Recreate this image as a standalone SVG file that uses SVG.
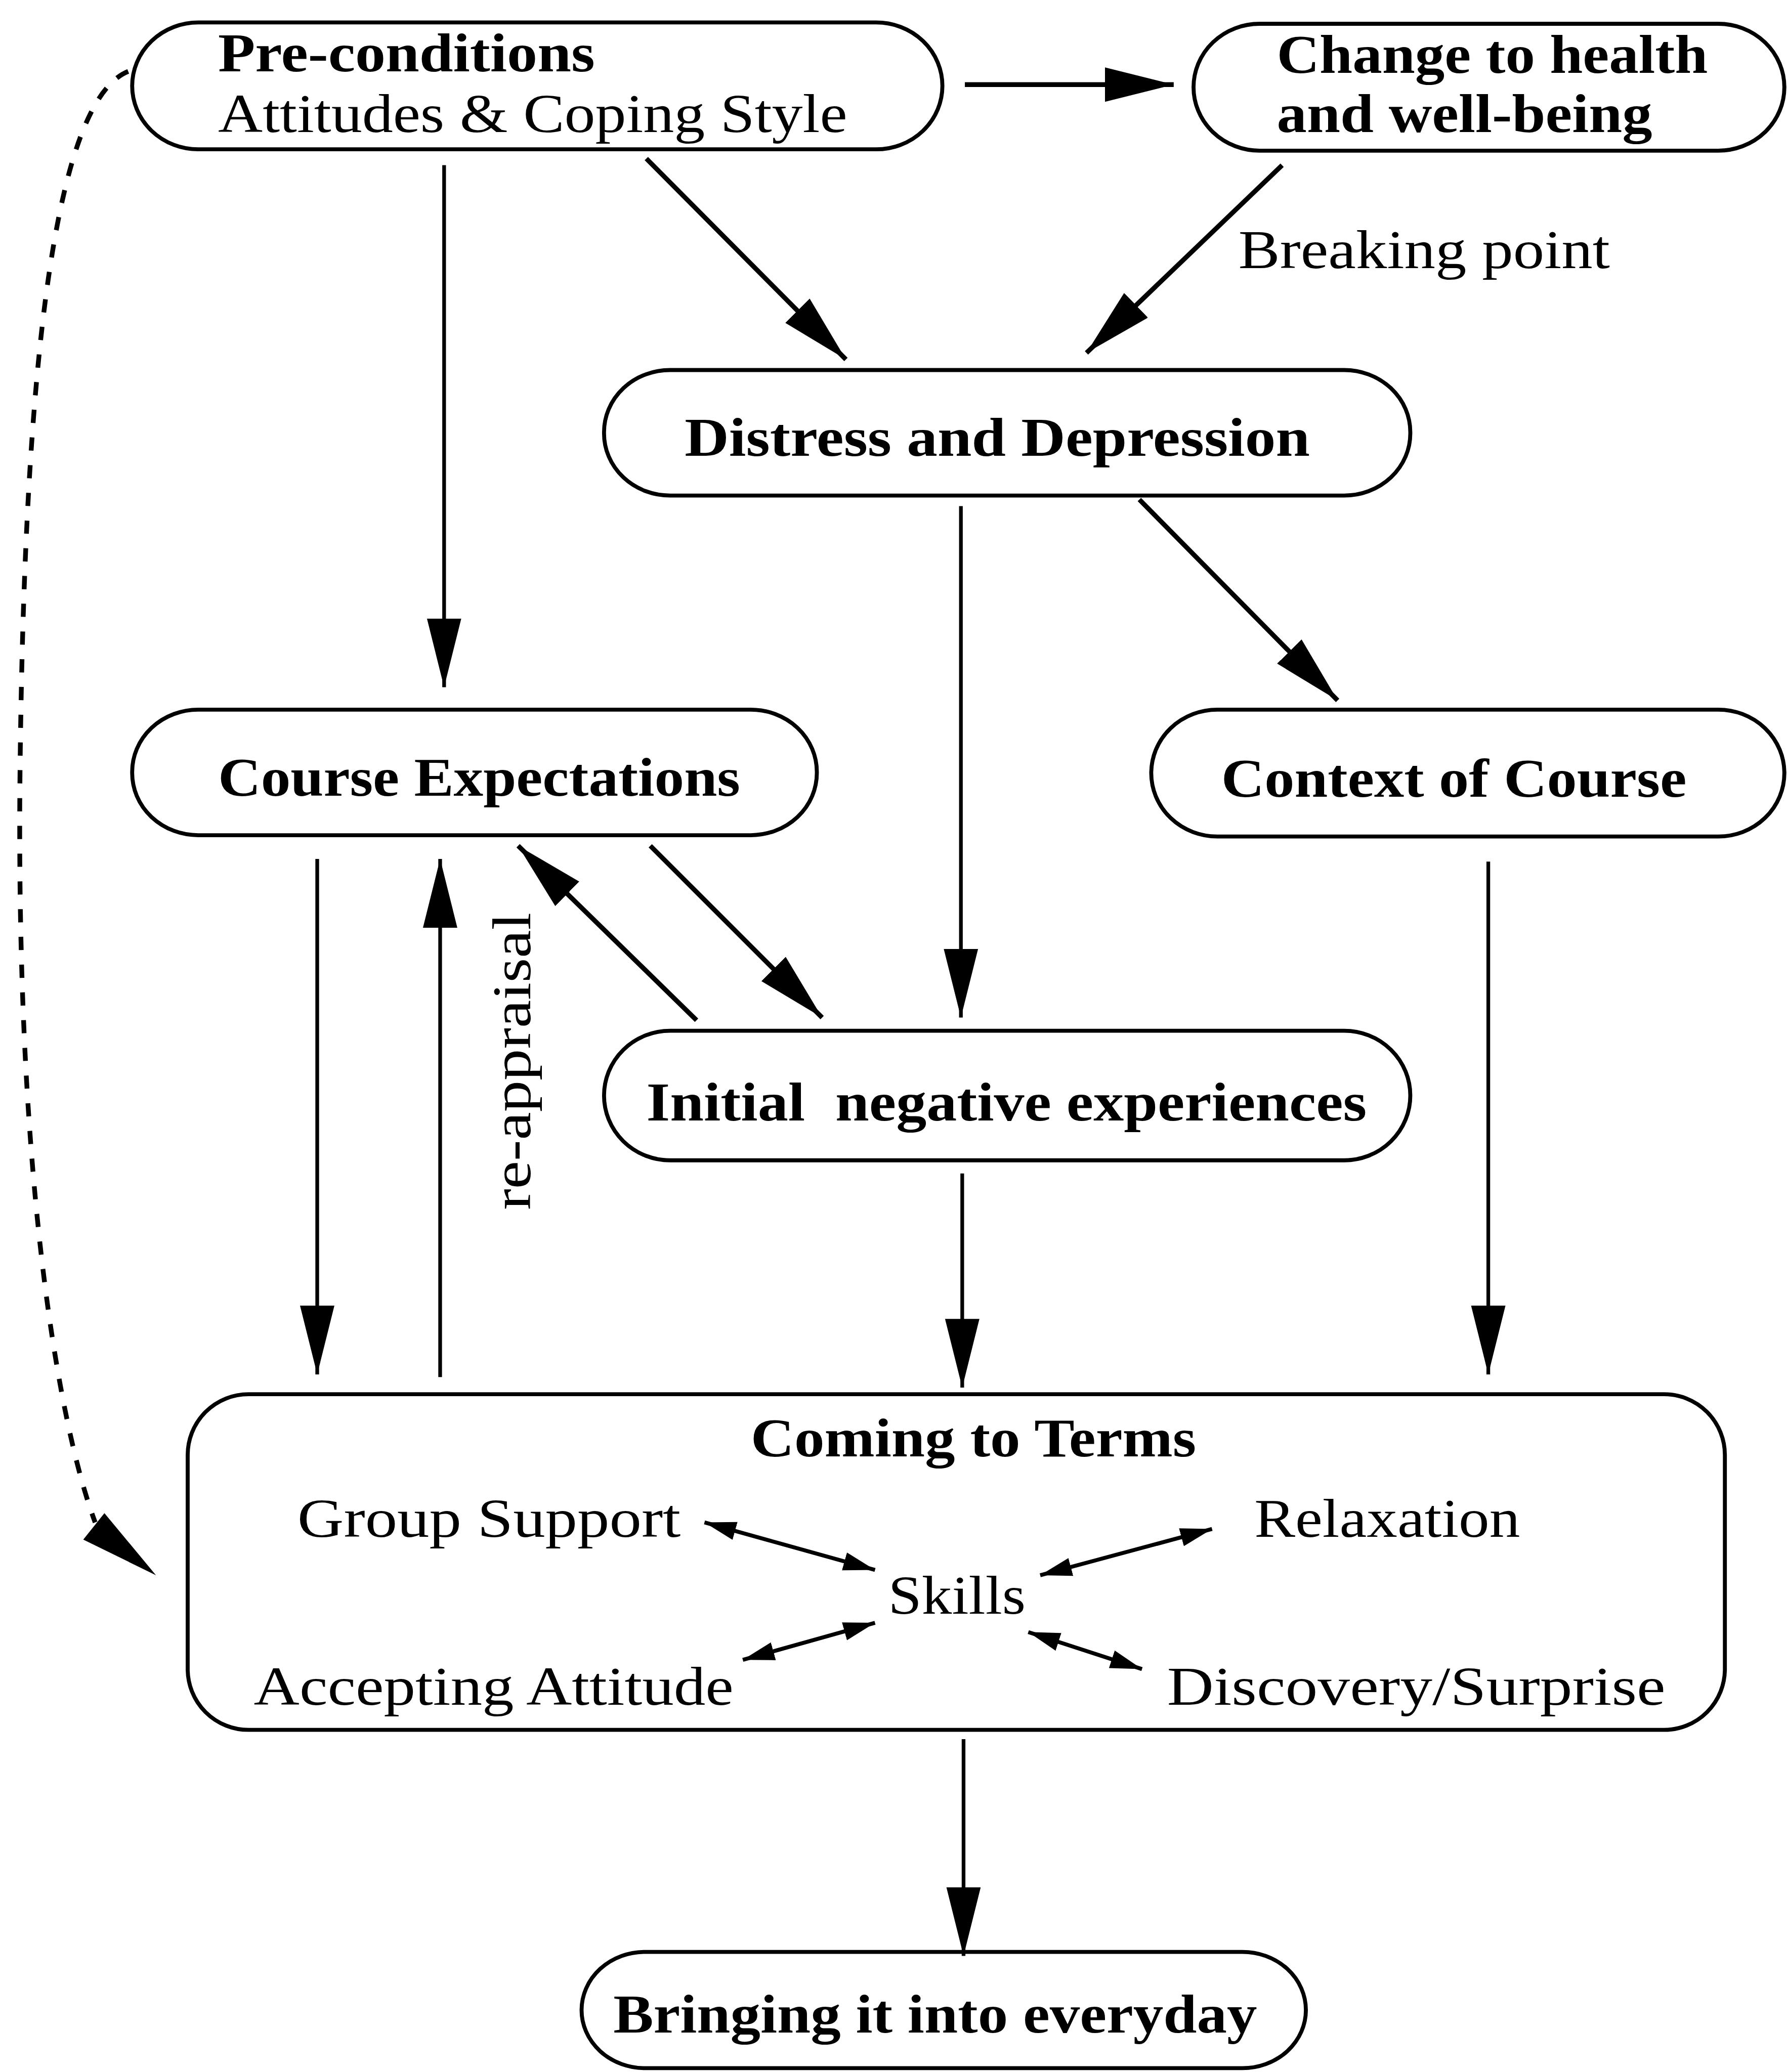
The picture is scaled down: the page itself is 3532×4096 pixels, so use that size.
<svg xmlns="http://www.w3.org/2000/svg" width="3532" height="4096" viewBox="0 0 3532 4096">
<style>
.box{fill:none;stroke:#000;stroke-width:3}
.t{font-family:"Liberation Serif","Times New Roman",serif;font-size:41px;fill:#000}
.b{font-weight:bold}
.c{fill:none;stroke:#000;stroke-width:2.8}
.k{stroke-width:3.6}
.s{fill:none;stroke:#000;stroke-width:3}
.d{fill:none;stroke:#000;stroke-width:3.6;stroke-dasharray:10 11}
</style>
<defs>
<marker id="ah" markerUnits="userSpaceOnUse" markerWidth="56" markerHeight="28" refX="52" refY="13" orient="auto" viewBox="0 0 56 28"><path d="M0,0 L52,13 L0,26 z" fill="#000"/></marker>
<marker id="sh" markerUnits="userSpaceOnUse" markerWidth="26" markerHeight="16" refX="24" refY="7" orient="auto-start-reverse" viewBox="0 0 26 16"><path d="M0,0 L24,7 L0,14 z" fill="#000"/></marker>
</defs>
<rect width="3532" height="4096" fill="#fff"/>
<g transform="scale(2.61243)">
<g id="connectors">
<line class="c k" x1="730" y1="64" x2="888" y2="64" marker-end="url(#ah)"/>
<line class="c k" x1="489" y1="120" x2="640" y2="272" marker-end="url(#ah)"/>
<line class="c k" x1="970" y1="125" x2="822" y2="267" marker-end="url(#ah)"/>
<line class="c" x1="336" y1="125" x2="336" y2="520" marker-end="url(#ah)"/>
<line class="c k" x1="862" y1="378" x2="1012" y2="530" marker-end="url(#ah)"/>
<line class="c" x1="727" y1="383" x2="727" y2="770" marker-end="url(#ah)"/>
<line class="c k" x1="527" y1="772" x2="392" y2="640" marker-end="url(#ah)"/>
<line class="c k" x1="492" y1="640" x2="622" y2="770" marker-end="url(#ah)"/>
<line class="c" x1="240" y1="650" x2="240" y2="1040" marker-end="url(#ah)"/>
<line class="c" x1="333" y1="1042" x2="333" y2="650" marker-end="url(#ah)"/>
<line class="c" x1="1126" y1="652" x2="1126" y2="1040" marker-end="url(#ah)"/>
<line class="c" x1="728" y1="888" x2="728" y2="1050" marker-end="url(#ah)"/>
<line class="c" x1="729" y1="1316" x2="729" y2="1480" marker-end="url(#ah)"/>
<line class="s" x1="533" y1="1152" x2="662" y2="1188" marker-start="url(#sh)" marker-end="url(#sh)"/>
<line class="s" x1="917" y1="1157" x2="787" y2="1192" marker-start="url(#sh)" marker-end="url(#sh)"/>
<line class="s" x1="562" y1="1256" x2="662" y2="1228" marker-start="url(#sh)" marker-end="url(#sh)"/>
<line class="s" x1="778" y1="1235" x2="864" y2="1263" marker-start="url(#sh)" marker-end="url(#sh)"/>
<path class="d" d="M97,54 C45,75 18,250 15,600 C13,900 45,1080 72,1152"/>
<polygon points="118,1192 63,1165 79,1145" fill="#000"/>
<text class="t" transform="translate(401,803) rotate(-90)" text-anchor="middle" textLength="225" lengthAdjust="spacingAndGlyphs">re-appraisal</text>
<text class="t" x="937" y="203" textLength="281" lengthAdjust="spacingAndGlyphs">Breaking point</text>
</g>
<g id="preconditions">
<rect class="box" x="100" y="17" width="613" height="96" rx="50" ry="48"/>
<text class="t b" x="165" y="54" textLength="285" lengthAdjust="spacingAndGlyphs">Pre-conditions</text>
<text class="t" x="165" y="100" textLength="476" lengthAdjust="spacingAndGlyphs">Attitudes &amp; Coping Style</text>
</g>
<g id="change">
<rect class="box" x="903" y="18" width="447" height="96" rx="50" ry="48"/>
<text class="t b" x="966" y="55" textLength="326" lengthAdjust="spacingAndGlyphs">Change to health</text>
<text class="t b" x="966" y="100" textLength="284" lengthAdjust="spacingAndGlyphs">and well-being</text>
</g>
<g id="distress">
<rect class="box" x="457" y="280" width="610" height="95" rx="50" ry="47"/>
<text class="t b" x="518" y="345" textLength="473" lengthAdjust="spacingAndGlyphs">Distress and Depression</text>
</g>
<g id="course-expectations">
<rect class="box" x="100" y="537" width="518" height="95" rx="50" ry="47"/>
<text class="t b" x="165" y="602" textLength="395" lengthAdjust="spacingAndGlyphs">Course Expectations</text>
</g>
<g id="context">
<rect class="box" x="871" y="537" width="479" height="96" rx="50" ry="48"/>
<text class="t b" x="924" y="603" textLength="352" lengthAdjust="spacingAndGlyphs">Context of Course</text>
</g>
<g id="initial">
<rect class="box" x="457" y="780" width="610" height="98" rx="50" ry="49"/>
<text class="t b" xml:space="preserve" x="489" y="848" textLength="545" lengthAdjust="spacingAndGlyphs">Initial  negative experiences</text>
</g>
<g id="coming">
<rect class="box" x="142" y="1055" width="1163" height="254" rx="46" ry="46"/>
<text class="t b" x="568" y="1102" textLength="337" lengthAdjust="spacingAndGlyphs">Coming to Terms</text>
<text class="t" x="225" y="1163" textLength="290" lengthAdjust="spacingAndGlyphs">Group Support</text>
<text class="t" x="949" y="1163" textLength="201" lengthAdjust="spacingAndGlyphs">Relaxation</text>
<text class="t" x="672" y="1221" textLength="104" lengthAdjust="spacingAndGlyphs">Skills</text>
<text class="t" x="192" y="1290" textLength="363" lengthAdjust="spacingAndGlyphs">Accepting Attitude</text>
<text class="t" x="883" y="1290" textLength="377" lengthAdjust="spacingAndGlyphs">Discovery/Surprise</text>
</g>
<g id="bringing">
<rect class="box" x="440" y="1477" width="548" height="88" rx="48" ry="44"/>
<text class="t b" x="464" y="1538" textLength="487" lengthAdjust="spacingAndGlyphs">Bringing it into everyday</text>
</g>
</g>
</svg>
